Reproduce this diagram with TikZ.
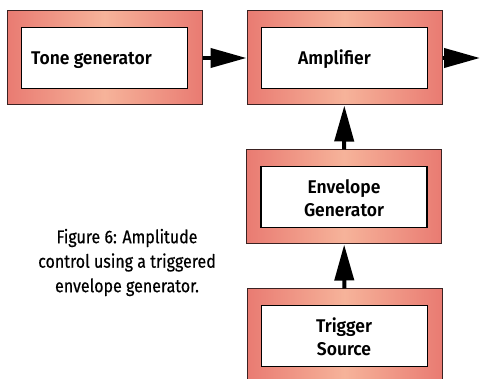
\documentclass[tikz,border=0pt]{standalone}
\usepackage{fontspec}
\setmainfont{Fira Sans}[FakeStretch=0.87,FakeBold=0.5]
\newfontfamily\boxfont{Fira Sans SemiBold}[FakeStretch=0.95]
\usetikzlibrary{arrows.meta}
\definecolor{salmon}{HTML}{E97B72}
\definecolor{peach}{HTML}{F6B39A}
\definecolor{rim}{HTML}{3A2222}
\begin{document}
\begin{tikzpicture}[x=1pt,y=-1pt]

      \useasboundingbox (0,0) rectangle (480,379);

      % outer frames
      \begin{scope}[every node/.style={rectangle,draw=rim,line width=1pt,
          left color=salmon,right color=salmon,middle color=peach,
          minimum width=195pt,minimum height=94pt,inner sep=0pt}]
        \node (tone) at (104.5,58)  {};
        \node (amp)  at (344.5,58)  {};
        \node (env)  at (344,197)   {};
        \node (trig) at (344.5,336) {};
      \end{scope}

      % white panels
      \begin{scope}[every node/.style={rectangle,draw,fill=white,line width=1.2pt,
          minimum width=166pt,minimum height=61pt,inner sep=0pt}]
        \node (tonein) at (tone.center) {};
        \node (ampin)  at (amp.center)  {};
        \node (envin)  at (env.center)  {};
        \node (trigin) at (trig.center) {};
      \end{scope}

      % labels
      \begin{scope}[every node/.style={font=\boxfont\fontsize{18.4}{22.5}\selectfont,
          align=center,inner sep=0pt}]
        \node[anchor=base west] (tonetxt) at (31,65)  {Tone generator};
        \node[anchor=base west] (amptxt)  at (298,65) {Amplifier};
        \node (envtxt)  at (344,198) {Envelope\\Generator};
        \node (trigtxt) at (344,337) {Trigger\\Source};
      \end{scope}

      \node[font=\fontsize{18.4}{24.5}\selectfont,align=center,inner sep=0pt]
        (caption) at (127,262.5) {Figure 6: Amplitude\\control using a triggered\\envelope generator.};

      \coordinate (out) at (480,58);

      \begin{scope}[every edge/.style={draw,line width=4pt,
          -{Triangle[width=19pt,length=36pt]}}]
        \path (tone) edge (amp);
        \path (amp)  edge (out);
        \path (env)  edge (amp);
        \path (trig) edge (env);
      \end{scope}

    \end{tikzpicture}
\end{document}
